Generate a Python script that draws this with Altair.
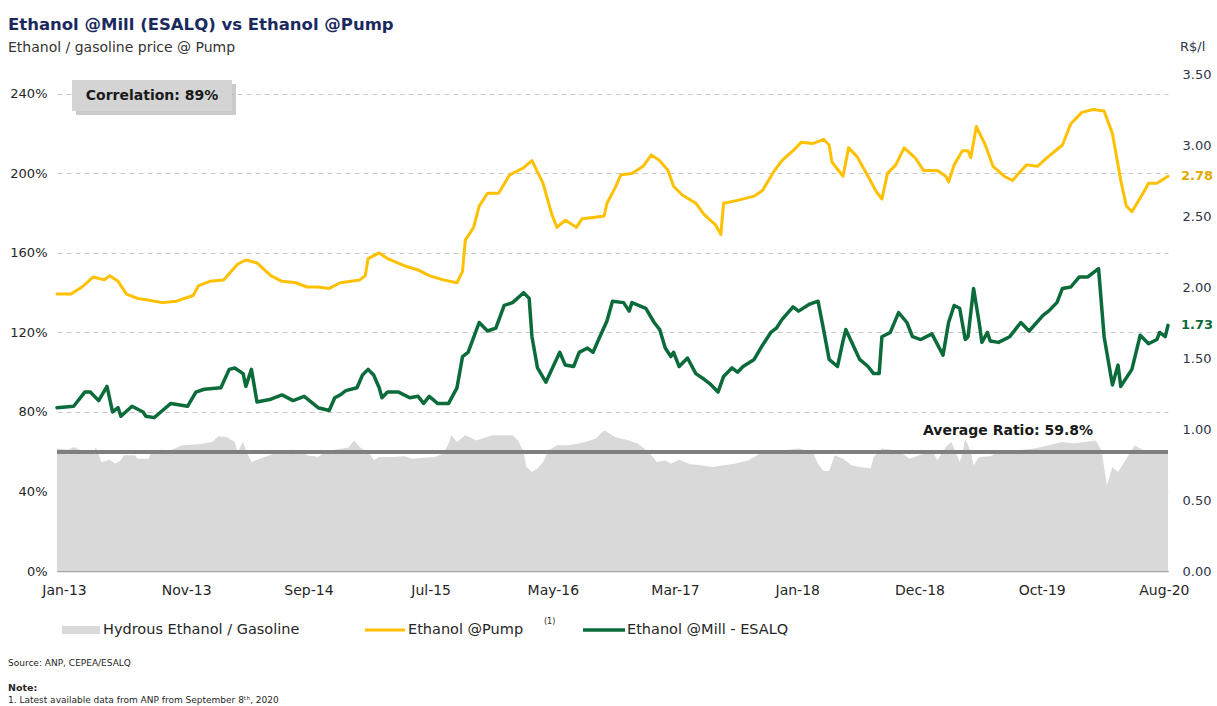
import altair as alt
import pandas as pd

# ---- weekly series (week 0 = first week of Jan 2013) ----
pump_week = [0, 5, 9, 13, 17, 19, 22, 25, 29, 32, 38, 43, 49, 51, 55, 60, 65, 68, 72, 77, 81, 86, 90, 94, 98,
             102, 109, 111, 112, 116, 119, 125, 130, 134, 139, 144, 146, 147, 149, 150, 152, 155, 159, 163, 168,
             171, 175, 178, 180, 183, 187, 189, 193, 197, 198, 201, 203, 207, 211, 214, 217, 220, 222, 225, 230,
             233, 237, 239, 240, 245, 251, 254, 258, 261, 265, 268, 272, 276, 278, 279, 283, 285, 288, 292, 295,
             297, 299, 302, 305, 309, 312, 317, 320, 321, 323, 326, 328, 329, 331, 334, 337, 341, 344, 349, 353,
             357, 362, 365, 369, 373, 377, 380, 383, 385, 387, 391, 393, 396, 400]
pump_price = [1.95, 1.95, 2.00, 2.07, 2.05, 2.08, 2.04, 1.95, 1.92, 1.91, 1.89, 1.90, 1.94, 2.01, 2.04, 2.05, 2.16,
              2.19, 2.17, 2.08, 2.04, 2.03, 2.00, 2.00, 1.99, 2.03, 2.05, 2.08, 2.20, 2.24, 2.20, 2.15, 2.12, 2.08,
              2.05, 2.03, 2.11, 2.33, 2.39, 2.42, 2.57, 2.66, 2.66, 2.79, 2.84, 2.89, 2.73, 2.52, 2.42, 2.47, 2.42,
              2.48, 2.49, 2.50, 2.59, 2.70, 2.79, 2.80, 2.85, 2.93, 2.89, 2.82, 2.71, 2.65, 2.59, 2.51, 2.44, 2.37,
              2.59, 2.61, 2.64, 2.68, 2.81, 2.89, 2.96, 3.02, 3.01, 3.04, 3.00, 2.88, 2.78, 2.98, 2.92, 2.78, 2.67,
              2.62, 2.80, 2.86, 2.98, 2.91, 2.82, 2.82, 2.78, 2.74, 2.86, 2.96, 2.96, 2.91, 3.13, 3.01, 2.85, 2.78,
              2.75, 2.86, 2.85, 2.92, 3.00, 3.15, 3.23, 3.25, 3.24, 3.08, 2.75, 2.57, 2.53, 2.66, 2.73, 2.73, 2.78]

mill_week = [0, 6, 10, 12, 15, 18, 20, 22, 23, 27, 31, 32, 35, 38, 41, 47, 50, 53, 59, 62, 64, 67, 68, 70, 72, 77,
             81, 85, 89, 94, 98, 100, 102, 104, 108, 110, 112, 114, 116, 117, 119, 123, 127, 130, 132, 134, 137,
             141, 144, 146, 148, 152, 155, 158, 161, 164, 168, 170, 171, 173, 176, 181, 183, 186, 188, 191, 193,
             195, 198, 200, 204, 206, 207, 212, 215, 217, 219, 221, 222, 224, 227, 230, 233, 235, 238, 240, 243,
             245, 247, 251, 254, 257, 259, 261, 265, 267, 271, 274, 276, 278, 281, 283, 284, 289, 292, 294, 296,
             297, 300, 303, 306, 308, 311, 315, 319, 321, 323, 325, 327, 328, 330, 332, 333, 335, 336, 339, 343,
             347, 350, 355, 357, 360, 362, 365, 368, 371, 375, 377, 380, 382, 383, 386, 387, 390, 393, 396, 397,
             399, 400]
mill_price = [1.15, 1.16, 1.26, 1.26, 1.20, 1.30, 1.12, 1.15, 1.09, 1.16, 1.12, 1.09, 1.08, 1.13, 1.18, 1.16, 1.26,
              1.28, 1.29, 1.42, 1.43, 1.39, 1.30, 1.42, 1.19, 1.21, 1.24, 1.20, 1.23, 1.15, 1.13, 1.22, 1.24, 1.27,
              1.29, 1.38, 1.42, 1.38, 1.29, 1.22, 1.26, 1.26, 1.22, 1.23, 1.18, 1.23, 1.18, 1.18, 1.29, 1.51, 1.54,
              1.75, 1.69, 1.71, 1.87, 1.89, 1.96, 1.92, 1.65, 1.43, 1.33, 1.54, 1.45, 1.44, 1.54, 1.57, 1.54, 1.63,
              1.76, 1.90, 1.89, 1.83, 1.89, 1.85, 1.75, 1.70, 1.57, 1.51, 1.54, 1.44, 1.50, 1.39, 1.35, 1.32, 1.26,
              1.37, 1.43, 1.40, 1.44, 1.49, 1.59, 1.68, 1.71, 1.77, 1.86, 1.83, 1.88, 1.90, 1.70, 1.49, 1.44, 1.62,
              1.70, 1.49, 1.44, 1.39, 1.39, 1.65, 1.68, 1.82, 1.75, 1.65, 1.63, 1.67, 1.52, 1.75, 1.87, 1.85, 1.63,
              1.65, 1.99, 1.75, 1.61, 1.68, 1.62, 1.61, 1.65, 1.75, 1.69, 1.80, 1.83, 1.89, 1.99, 2.00, 2.07, 2.07,
              2.13, 1.65, 1.31, 1.45, 1.30, 1.39, 1.42, 1.66, 1.60, 1.63, 1.68, 1.65, 1.73]

ratio_week = [0, 4, 6, 10, 13, 14, 16, 19, 21, 23, 24, 28, 29, 33, 34, 37, 41, 45, 51, 56, 58, 61, 64, 65, 67, 68,
              70, 73, 77, 84, 88, 90, 94, 96, 100, 105, 107, 109, 113, 114, 116, 121, 125, 128, 132, 136, 139, 141,
              142, 144, 147, 151, 153, 157, 161, 164, 166, 168, 169, 171, 173, 175, 177, 180, 184, 188, 192, 194,
              197, 201, 206, 209, 213, 216, 219, 221, 224, 228, 232, 236, 240, 244, 249, 253, 257, 262, 267, 272,
              274, 276, 278, 280, 283, 286, 289, 293, 294, 297, 300, 304, 307, 312, 315, 317, 320, 322, 325, 326,
              327, 329, 330, 332, 336, 340, 346, 352, 357, 362, 366, 370, 374, 376, 377, 378, 380, 382, 385, 388,
              390, 393, 396, 400]
ratio_pct = [61.6, 61.0, 62.4, 59.9, 59.0, 62.4, 54.8, 56.0, 54.0, 55.7, 58.2, 58.2, 56.5, 56.5, 59.9, 61.0, 60.7,
             63.2, 63.7, 64.9, 67.8, 67.4, 64.9, 59.9, 64.9, 60.7, 54.8, 56.5, 58.5, 61.0, 60.7, 58.2, 57.4, 59.4,
             61.0, 62.1, 65.7, 62.4, 58.2, 55.7, 57.4, 57.4, 57.7, 56.5, 57.0, 57.4, 59.0, 64.1, 68.3, 64.9, 68.3,
             65.7, 66.6, 68.3, 68.3, 68.3, 65.7, 59.9, 52.3, 49.8, 51.5, 54.8, 60.7, 63.2, 63.2, 64.1, 65.7, 66.6,
             70.8, 67.4, 65.7, 64.1, 59.9, 54.8, 55.7, 54.0, 56.0, 53.7, 53.2, 52.3, 53.2, 54.0, 55.7, 59.0, 60.7,
             60.7, 61.6, 59.9, 54.0, 50.3, 50.3, 58.2, 56.5, 53.2, 52.3, 51.5, 57.4, 61.6, 61.0, 59.4, 56.5, 59.0,
             60.7, 55.7, 62.4, 64.9, 54.8, 59.0, 66.6, 59.9, 53.2, 57.4, 57.7, 60.7, 60.7, 61.6, 63.2, 64.9, 64.1,
             64.9, 65.7, 60.7, 52.3, 43.1, 52.3, 49.8, 56.5, 63.2, 61.6, 59.0, 59.9, 59.4]

AVG_RATIO = 0.598
CORRELATION = 0.89

# x-axis labels every 44 weeks
tick_weeks = [0, 44, 88, 132, 176, 220, 264, 308, 352, 396]
tick_labels = ["Jan-13", "Nov-13", "Sep-14", "Jul-15", "May-16", "Mar-17", "Jan-18", "Dec-18", "Oct-19", "Aug-20"]

pct_ticks = [0, 0.4, 0.8, 1.2, 1.6, 2.0, 2.4]
price_ticks = [0, 0.5, 1.0, 1.5, 2.0, 2.5, 3.0, 3.5]

GOLD = "#FFC000"
GOLD_TEXT = "#E3A800"
GREEN = "#0B6B3A"
AREA_GRAY = "#D9D9D9"
AVG_GRAY = "#7F7F7F"
FONT = "DejaVu Sans"
TEXT = "#262626"

pump = pd.DataFrame({"week": pump_week, "price": pump_price})
mill = pd.DataFrame({"week": mill_week, "price": mill_price})
ratio = pd.DataFrame({"week": ratio_week, "ratio": [v / 100 for v in ratio_pct]})
ends = pd.DataFrame({
    "week": [pump_week[-1], mill_week[-1]],
    "price": [pump_price[-1], mill_price[-1]],
    "series": ["pump", "mill"],
})
one = pd.DataFrame({"k": [0]})

label_expr = "[" + ",".join(f"'{t}'" for t in tick_labels) + "][round(datum.value / 44)]"

x_enc = alt.X(
    "week:Q",
    scale=alt.Scale(domain=[0, 400], nice=False, zero=False),
    axis=alt.Axis(values=tick_weeks, labelExpr=label_expr, grid=False, ticks=False, labelFlush=False,
                  labelOffset=7, labelBound=False, domainColor="#A6A6A6", domainWidth=1.5, labelPadding=12,
                  labelFontSize=14, labelColor=TEXT, labelFont=FONT, title=None),
)

pct_scale = alt.Scale(domain=[0, 2.5], nice=False, zero=True)
price_scale = alt.Scale(domain=[0, 3.5], nice=False, zero=True)

# ---- left axis: price ratio area + average ----
area = alt.Chart(ratio).mark_area(color=AREA_GRAY, opacity=1).encode(
    x=x_enc,
    y=alt.Y("ratio:Q", scale=pct_scale,
            axis=alt.Axis(values=pct_ticks, format=".0%", grid=True, gridDash=[5, 4], gridColor="#C9C9C9",
                          gridWidth=1, domain=False, ticks=False, labelPadding=10, labelFontSize=13,
                          labelColor=TEXT, labelFont=FONT, title=None)),
)

avg_rule = alt.Chart(one).mark_rule(color=AVG_GRAY, strokeWidth=4).encode(
    x=alt.datum(0), x2=alt.datum(400), y=alt.datum(AVG_RATIO),
)

avg_text = alt.Chart(one).mark_text(
    text=f"Average Ratio: {AVG_RATIO:.1%}", font=FONT, fontSize=14, fontWeight="bold", color="#1A1A1A",
    align="center", baseline="middle", dy=-21,
).encode(x=alt.value(951), y=alt.datum(AVG_RATIO))

left = alt.layer(area, avg_rule, avg_text)

# ---- right axis: ethanol prices (R$/l) ----
pump_line = alt.Chart(pump).mark_line(color=GOLD, strokeWidth=3, strokeJoin="round", strokeCap="round").encode(
    x=x_enc,
    y=alt.Y("price:Q", scale=price_scale,
            axis=alt.Axis(orient="right", values=price_ticks, format=".2f", grid=False, domain=False,
                          ticks=False, labelPadding=14, labelFontSize=13, labelColor="#2F3447",
                          labelFont=FONT, title=None)),
)
mill_line = alt.Chart(mill).mark_line(color=GREEN, strokeWidth=3.5, strokeJoin="round", strokeCap="round").encode(
    x="week:Q", y="price:Q",
)
end_labels = alt.Chart(ends).mark_text(
    align="left", baseline="middle", dx=13, font=FONT, fontSize=13, fontWeight="bold",
).encode(
    x="week:Q", y="price:Q",
    text=alt.Text("price:Q", format=".2f"),
    color=alt.Color("series:N", scale=alt.Scale(domain=["pump", "mill"], range=[GOLD_TEXT, GREEN]), legend=None),
)

right = alt.layer(pump_line, mill_line, end_labels)


# ---- titles, notes and legend drawn around the plot ----
def label(text, x, y, size=13, weight="normal", color=TEXT, align="left", baseline="middle"):
    return alt.Chart(one).mark_text(
        text=text, font=FONT, fontSize=size, fontWeight=weight, color=color, align=align, baseline=baseline,
    ).encode(x=alt.value(x), y=alt.value(y))


def box(x, x2, y, y2, color, opacity=1.0):
    return alt.Chart(one).mark_rect(color=color, opacity=opacity).encode(
        x=alt.value(x), x2=alt.value(x2), y=alt.value(y), y2=alt.value(y2))


def stroke(x, x2, y, color, width):
    return alt.Chart(one).mark_rule(color=color, strokeWidth=width).encode(
        x=alt.value(x), x2=alt.value(x2), y=alt.value(y))


decor = [
    label("Ethanol @Mill (ESALQ) vs Ethanol @Pump", -49, -44, size=16.5, weight="bold", color="#1B2A5E",
          baseline="alphabetic"),
    label("Ethanol / gasoline price @ Pump", -49, -22, size=14, color="#333333", baseline="alphabetic"),
    label("R$/l", 1123, -27, size=13, color="#2F3447"),
    box(19, 179, 10, 41, "#A0A0A0", 0.55),
    box(15, 175, 6, 37, "#D4D4D4"),
    label(f"Correlation: {CORRELATION:.0%}", 95, 22, size=14, weight="bold", color="#1A1A1A", align="center"),
    box(5, 43, 552, 560, AREA_GRAY),
    label("Hydrous Ethanol / Gasoline", 46, 556, size=14.5),
    stroke(308, 348, 556, GOLD, 3),
    label("Ethanol @Pump", 351, 556, size=14.5),
    label("(1)", 487, 548, size=8),
    stroke(526, 568, 556, GREEN, 3.5),
    label("Ethanol @Mill - ESALQ", 570, 556, size=14.5),
    label("Source: ANP, CEPEA/ESALQ", -49, 589, size=9),
    label("Note:", -49, 614, size=9.5, weight="bold"),
    label("1.  Latest available data from ANP from September 8\u1d57\u02b0, 2020", -49, 626, size=9),
]

chart = alt.layer(left, right, *decor).resolve_scale(y="independent", color="independent").properties(
    width=1111,
    height=497,
    padding={"left": 57, "top": 74, "right": 49, "bottom": 135},
    autosize=alt.AutoSizeParams(type="none"),
    background="white",
).configure_view(stroke=None)

chart.save("out.html", embed_options={"renderer": "svg", "actions": False})
